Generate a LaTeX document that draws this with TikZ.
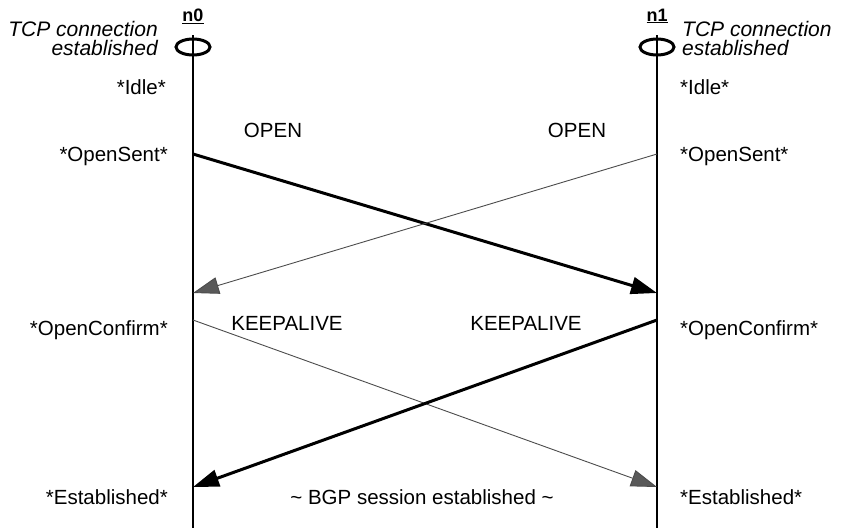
\documentclass[tikz,border=0pt]{standalone}
\usepackage{fontspec}
\setmainfont{Liberation Sans}
\usetikzlibrary{arrows.meta}
\begin{document}
\begin{tikzpicture}[x=1pt,y=-1pt,
	lbl/.style={font=\fontsize{20.5}{19}\selectfont, inner sep=0pt},
	lifeline/.style={line width=1.5pt},
	msgbold/.style={line width=3pt, -{Triangle[length=26pt,width=17pt]}},
	msgthin/.style={line width=0.9pt, draw=black!70, -{Triangle[length=26pt,width=17pt,fill=black!65]}}]
	\useasboundingbox (0,0) rectangle (843,528);
	% lifelines
	\foreach \n/\x in {n0/193,n1/657} {
		\node[lbl, font=\fontsize{18}{18}\selectfont\bfseries] (\n) at (\x,16) {\underline{\n}};
		\coordinate (\n top) at (\x,35);
		\coordinate (\n bot) at (\x,528);
		\draw[lifeline] (\n top) -- (\n bot);
		\draw[line width=3pt] (\x,47) ellipse [x radius=17pt, y radius=8pt];
	}
	\node[lbl, anchor=east, align=right, font=\fontsize{21}{19}\selectfont\itshape] (tcp0) at (158,38) {TCP connection\\established};
	\node[lbl, anchor=west, align=left, font=\fontsize{21}{19}\selectfont\itshape] (tcp1) at (682,38) {TCP connection\\established};
	% states
	\node[lbl, anchor=east] (idle0) at (166,87) {*Idle*};
	\node[lbl, anchor=west] (idle1) at (680,87) {*Idle*};
	\node[lbl, anchor=east] (sent0) at (168,156) {*OpenSent*};
	\node[lbl, anchor=west] (sent1) at (680,156) {*OpenSent*};
	\node[lbl, anchor=east] (conf0) at (168,330) {*OpenConfirm*};
	\node[lbl, anchor=west] (conf1) at (680,330) {*OpenConfirm*};
	\node[lbl, anchor=east] (est0) at (168,497) {*Established*};
	\node[lbl, anchor=west] (est1) at (680,497) {*Established*};
	% messages
	\coordinate (a0) at (193,154); \coordinate (a1) at (657,154);
	\coordinate (b0) at (193,293); \coordinate (b1) at (657,293);
	\coordinate (c0) at (193,320); \coordinate (c1) at (657,320);
	\coordinate (d0) at (193,487); \coordinate (d1) at (657,487);
	\draw[msgbold] (a0) -- (b1);
	\draw[msgthin] (a1) -- (b0);
	\draw[msgthin] (c0) -- (d1);
	\draw[msgbold] (c1) -- (d0);
	\node[lbl] (open0) at (273,130) {OPEN};
	\node[lbl] (open1) at (577,130) {OPEN};
	\node[lbl] (ka0) at (287,323) {KEEPALIVE};
	\node[lbl] (ka1) at (526,323) {KEEPALIVE};
	\node[lbl] (bgp) at (422,497) {\textasciitilde{} BGP session established \textasciitilde};
\end{tikzpicture}
\end{document}
